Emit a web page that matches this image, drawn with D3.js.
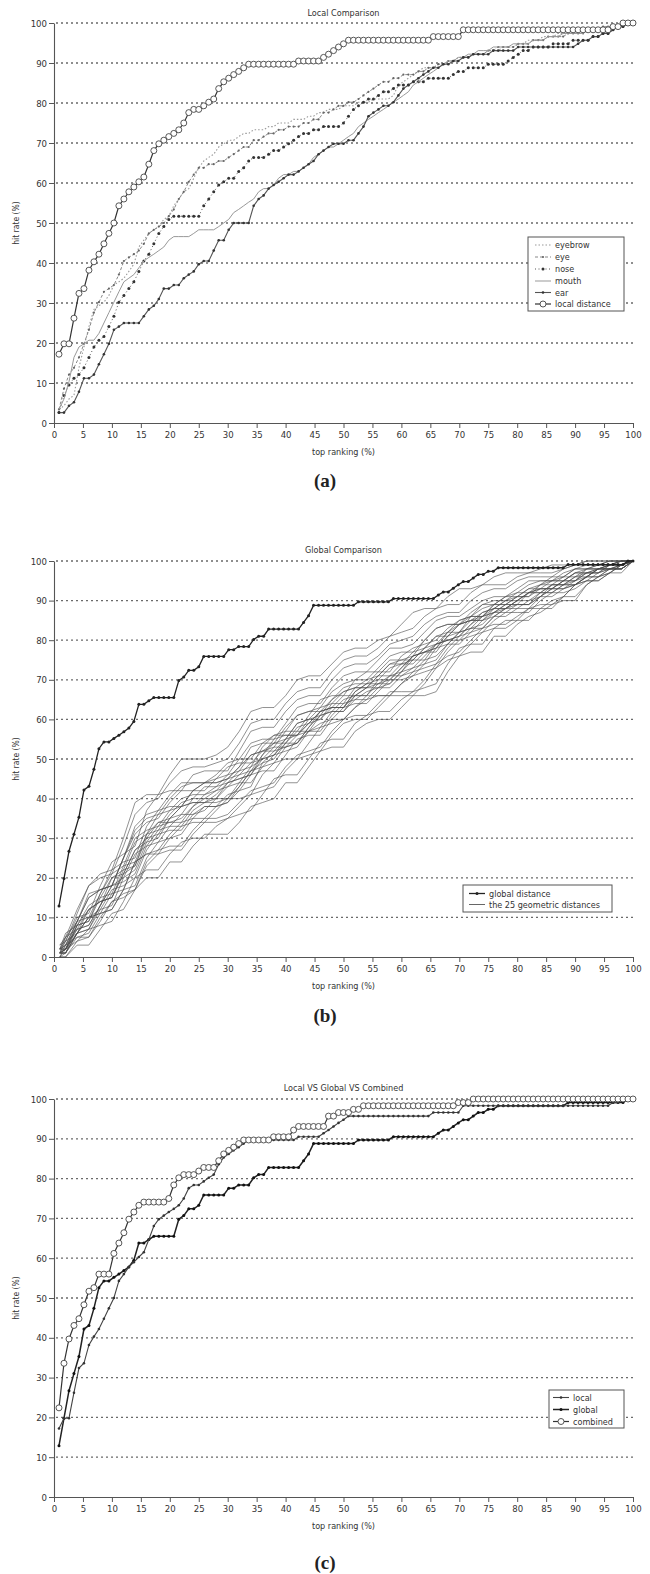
<!DOCTYPE html>
<html><head><meta charset="utf-8">
<script src="https://cdn.jsdelivr.net/npm/d3@7"></script>
<style>body{margin:0;background:#fff}</style>
</head><body>
<svg id="c" width="650" height="1574"></svg>
<script>
// ---------- data ----------
const nSubjects = 116; // ranks 1..116 -> top ranking (%)
const xTicks = [0,5,10,15,20,25,30,35,40,45,50,55,60,65,70,75,80,85,90,95,100];
const yTicks = [0,10,20,30,40,50,60,70,80,90,100];
const panelTitles = ["Local Comparison","Global Comparison","Local VS Global VS Combined"];
const panelLetters = ["(a)","(b)","(c)"];
const xLabel = "top ranking (%)";
const yLabel = "hit rate (%)";
const localNames = ["eyebrow","eye","nose","mouth","ear","local distance"];
const globalNames = ["global distance","the 25 geometric distances"];
const combNames = ["local","global","combined"];

const eyebrow = [3.4,4.3,6.0,6.9,13.8,19.0,24.1,28.4,29.3,30.2,
31.9,34.5,35.3,36.2,37.9,39.7,44.0,45.7,47.4,48.3,
49.1,50.9,51.7,54.3,56.0,57.8,58.6,61.2,63.8,65.5,
66.4,67.2,69.0,69.8,70.7,70.7,71.6,72.4,72.4,73.3,
73.3,73.3,74.1,74.1,75.0,75.0,75.0,75.9,75.9,75.9,
76.7,76.7,77.6,77.6,78.4,78.4,78.4,79.3,79.3,79.3,
80.2,80.2,80.2,81.0,81.0,81.0,81.0,81.9,84.5,85.3,
86.2,87.1,87.9,88.8,88.8,88.8,89.7,89.7,90.5,90.5,
91.4,91.4,91.4,92.2,92.2,92.2,93.1,93.1,93.1,94.0,
94.0,94.0,94.8,94.8,95.7,95.7,95.7,96.6,96.6,96.6,
97.4,97.4,97.4,97.4,98.3,98.3,98.3,98.3,98.3,99.1,
99.1,99.1,99.1,100,100,100];

const eye = [3.4,8.6,12.1,13.8,16.4,19.8,23.3,27.6,30.2,32.8,
33.6,34.5,37.1,40.5,41.4,42.2,43.1,44.8,47.4,48.3,
49.1,50.0,51.7,53.4,56.0,57.8,60.3,62.1,63.8,63.8,
64.7,64.7,65.5,65.5,66.4,67.2,68.1,69.0,69.0,70.7,
70.7,71.6,72.4,72.4,73.3,73.3,74.1,74.1,74.1,75.0,
75.0,75.9,75.9,77.6,77.6,78.4,79.3,79.3,80.2,80.2,
81.0,81.9,82.8,83.6,84.5,85.3,85.3,86.2,86.2,87.1,
87.1,87.1,87.9,87.9,88.8,88.8,89.7,89.7,90.5,90.5,
90.5,91.4,91.4,92.2,92.2,92.2,93.1,93.1,94.0,94.0,
94.0,94.0,94.8,94.8,94.8,95.7,95.7,95.7,96.6,96.6,
96.6,96.6,97.4,97.4,97.4,97.4,98.3,98.3,98.3,99.1,
99.1,99.1,99.1,100,100,100];

const nose = [2.6,6.9,9.5,11.2,12.1,13.8,16.4,19.0,20.7,21.6,
24.1,26.7,30.2,31.9,33.6,35.3,37.9,40.5,42.2,44.8,
47.4,49.1,50.9,51.7,51.7,51.7,51.7,51.7,51.7,54.3,
56.0,57.8,59.5,60.3,61.2,61.2,62.9,63.8,65.5,66.4,
66.4,66.4,67.2,68.1,68.1,69.0,69.8,70.7,71.6,72.4,
72.4,73.3,73.3,74.1,74.1,74.1,74.1,75.0,76.7,78.4,
79.3,80.2,81.0,81.0,81.9,82.8,82.8,83.6,84.5,84.5,
84.5,85.3,85.3,85.3,86.2,86.2,86.2,86.2,86.2,87.1,
87.9,87.9,88.8,88.8,88.8,88.8,89.7,89.7,89.7,89.7,
90.5,91.4,92.2,93.1,93.1,94.0,94.0,94.0,94.0,94.8,
94.8,94.8,94.8,95.7,95.7,95.7,95.7,96.6,96.6,97.4,
97.4,98.3,99.1,99.1,100,100];

const mouth = [3.4,6.0,10.3,16.4,19.0,19.8,20.7,20.7,22.4,25.0,
27.6,30.2,32.8,35.3,36.2,37.1,38.8,40.5,41.4,42.2,
43.1,44.0,45.7,46.6,46.6,46.6,46.6,47.4,48.3,48.3,
48.3,48.3,49.1,50.0,50.9,52.6,53.4,54.3,55.2,56.0,
57.8,58.6,58.6,59.5,61.2,62.1,62.1,62.9,62.9,63.8,
64.7,66.4,67.2,68.1,69.0,69.0,69.8,70.7,71.6,72.4,
74.1,75.0,75.9,76.7,77.6,78.4,79.3,80.2,81.0,81.9,
82.8,84.5,85.3,86.2,87.1,87.9,88.8,89.7,90.5,90.5,
91.4,91.4,92.2,92.2,93.1,93.1,93.1,94.0,94.0,94.0,
94.0,94.8,94.8,94.8,94.8,95.7,95.7,95.7,96.6,96.6,
96.6,97.4,97.4,97.4,97.4,97.4,98.3,98.3,98.3,98.3,
99.1,99.1,99.1,99.1,100,100];

const ear = [2.6,2.6,4.3,5.2,7.8,11.2,11.2,12.1,14.7,17.2,
19.8,23.3,24.1,25.0,25.0,25.0,25.0,26.7,28.4,29.3,
31.0,33.6,33.6,34.5,34.5,36.2,37.1,37.9,39.7,40.5,
40.5,43.1,45.7,45.7,48.3,50.0,50.0,50.0,50.0,54.3,
56.0,56.9,58.6,59.5,60.3,61.2,62.1,62.1,62.9,63.8,
64.7,65.5,67.2,68.1,69.0,69.8,69.8,69.8,70.7,70.7,
72.4,74.1,76.7,77.6,78.4,79.3,79.3,80.2,81.9,83.6,
84.5,85.3,86.2,87.1,87.9,88.8,88.8,89.7,89.7,90.5,
90.5,91.4,91.4,92.2,92.2,92.2,92.2,93.1,93.1,93.1,
93.1,93.1,94.0,94.0,94.0,94.0,94.0,94.0,94.0,94.0,
94.0,94.0,94.0,94.0,94.8,95.7,95.7,96.6,96.6,97.4,
97.4,98.3,99.1,99.1,100,100];

const localDist = [17.2,19.8,19.8,26.2,32.4,33.6,38.2,40.3,42.2,44.8,
47.4,50.0,54.3,56.0,57.8,59.0,60.3,61.5,64.7,68.1,
69.8,70.7,71.6,72.4,73.3,75.0,77.6,78.4,78.4,79.3,
80.2,81.0,83.6,85.3,86.2,87.1,87.9,88.8,89.7,89.7,
89.7,89.7,89.7,89.7,89.7,89.7,89.7,89.7,90.5,90.5,
90.5,90.5,90.5,91.4,92.2,93.1,94.0,94.8,95.7,95.7,
95.7,95.7,95.7,95.7,95.7,95.7,95.7,95.7,95.7,95.7,
95.7,95.7,95.7,95.7,95.7,96.6,96.6,96.6,96.6,96.6,
96.6,98.3,98.3,98.3,98.3,98.3,98.3,98.3,98.3,98.3,
98.3,98.3,98.3,98.3,98.3,98.3,98.3,98.3,98.3,98.3,
98.3,98.3,98.3,98.3,98.3,98.3,98.3,98.3,98.3,98.3,
98.3,99.1,99.1,100,100,100];

const globalDist = [12.9,19.8,26.7,31.0,35.3,42.2,43.1,47.4,52.6,54.3,
54.3,55.2,56.0,56.9,57.8,59.5,63.8,63.8,64.7,65.5,
65.5,65.5,65.5,65.5,69.8,70.7,72.4,72.4,73.3,75.9,
75.9,75.9,75.9,75.9,77.6,77.6,78.4,78.4,78.4,80.2,
81.0,81.0,82.8,82.8,82.8,82.8,82.8,82.8,82.8,84.5,
86.2,88.8,88.8,88.8,88.8,88.8,88.8,88.8,88.8,88.8,
89.7,89.7,89.7,89.7,89.7,89.7,89.7,90.5,90.5,90.5,
90.5,90.5,90.5,90.5,90.5,90.5,91.4,92.2,92.2,93.1,
94.0,94.8,94.8,95.7,96.6,96.6,97.4,97.4,98.3,98.3,
98.3,98.3,98.3,98.3,98.3,98.3,98.3,98.3,98.3,98.3,
98.3,98.3,99.1,99.1,99.1,99.1,99.1,99.1,99.1,99.1,
99.1,99.1,99.1,99.1,100,100];

const combined = [22.4,33.6,39.7,43.1,44.8,48.3,51.7,52.6,56.0,56.0,
56.0,61.2,63.8,66.4,69.8,71.6,73.3,74.1,74.1,74.1,
74.1,74.1,75.0,78.4,80.2,81.0,81.0,81.0,81.9,82.8,
82.8,82.8,84.5,86.2,87.1,87.9,88.8,89.7,89.7,89.7,
89.7,89.7,89.7,90.5,90.5,90.5,90.5,92.2,93.1,93.1,
93.1,93.1,93.1,93.1,95.7,95.7,96.6,96.6,96.6,97.4,
97.4,98.3,98.3,98.3,98.3,98.3,98.3,98.3,98.3,98.3,
98.3,98.3,98.3,98.3,98.3,98.3,98.3,98.3,98.3,98.3,
99.1,99.1,99.1,100,100,100,100,100,100,100,
100,100,100,100,100,100,100,100,100,100,
100,100,100,100,100,100,100,100,100,100,
100,100,100,100,100,100];

// 25 geometric distances, sampled at these top-ranking (%) values
const geoX = [1,2,4,6,8,10,12,14,16,18,20,22,24,26,28,30,32,34,36,38,40,42,44,46,48,50,
52,54,56,58,60,62,64,66,68,70,72,74,76,78,80,82,84,86,88,90,92,94,96,98,100];
const geometric = [
[0,0,3,3,7,11,12,17,20,20,24,24,28,31,31,31,34,38,39,40,44,44,48,52,53,53,57,59,60,60,63,66,66,67,72,76,77,77,81,81,84,86,87,89,90,90,94,96,97,99,100],
[3,5,12,18,21,22,30,39,41,41,46,50,50,50,51,53,57,62,63,63,66,70,71,71,74,77,78,78,80,81,84,87,88,88,91,93,93,94,96,97,97,97,98,99,99,99,100,100,100,100,100],
[1,2,7,12,14,15,21,27,30,31,35,38,39,39,41,44,45,46,51,54,55,56,59,62,63,63,67,69,70,70,73,76,77,77,81,84,85,86,88,90,90,90,92,94,94,95,97,98,98,98,100],
[1,1,6,10,11,12,17,24,26,27,31,34,35,35,38,41,42,43,49,52,53,54,58,61,62,62,66,68,69,70,73,76,77,78,82,85,86,86,89,91,91,91,94,96,96,96,98,99,99,99,100],
[2,3,9,15,17,18,25,31,34,35,39,42,42,42,45,48,49,49,52,54,54,54,57,59,60,60,63,65,66,66,69,72,73,74,78,81,82,83,86,88,88,88,91,93,93,94,96,98,98,98,100],
[1,4,6,7,13,18,19,21,28,32,33,33,37,39,39,40,43,47,48,49,53,56,57,57,61,64,65,65,68,71,71,72,75,79,80,80,83,86,87,87,89,92,92,92,94,96,96,96,98,99,100],
[2,2,8,13,15,16,23,30,32,33,37,40,41,41,43,46,47,48,53,56,57,57,61,65,66,66,70,72,72,72,76,78,79,80,83,85,86,86,89,91,92,92,94,95,95,95,98,99,99,99,100],
[0,1,5,5,10,14,16,17,24,27,28,28,32,35,35,36,39,42,43,44,48,51,52,53,57,60,61,61,64,67,67,67,70,74,76,77,80,83,84,84,86,88,89,89,91,94,95,95,97,99,100],
[2,4,10,11,18,24,26,28,37,41,42,42,46,47,47,47,52,57,58,58,62,65,66,66,70,73,74,74,76,79,80,81,84,86,87,87,90,92,93,93,95,96,96,96,98,99,99,99,100,100,100],
[1,3,7,8,13,18,20,22,29,33,34,35,38,40,40,40,44,48,50,51,54,57,57,58,62,65,66,66,69,71,72,73,76,79,80,81,84,86,87,88,90,92,92,92,94,96,97,97,98,99,100],
[1,2,8,12,14,15,22,29,31,32,36,39,40,40,42,45,46,47,51,55,56,56,60,63,64,64,68,70,71,71,74,77,78,79,82,84,85,85,88,90,91,91,93,95,95,95,97,98,99,99,100],
[1,1,6,7,12,17,18,20,27,31,32,32,36,38,38,39,42,46,47,47,51,55,56,56,60,63,64,64,67,70,70,71,74,78,79,79,82,85,86,86,88,90,91,91,93,95,96,96,98,99,100],
[2,5,9,10,16,22,24,25,33,37,38,38,42,44,44,45,48,53,54,54,58,61,62,63,67,69,70,70,73,76,77,77,80,83,84,84,87,89,90,90,92,94,95,95,96,98,98,98,99,100,100],
[0,0,4,7,8,9,14,20,22,22,26,29,30,30,33,35,36,37,41,45,46,46,50,54,55,55,59,61,62,62,65,67,68,69,74,78,79,79,83,85,85,85,88,90,91,91,94,96,97,97,100],
[3,4,11,18,20,21,28,36,39,40,44,47,48,48,49,50,54,59,60,60,64,67,68,68,72,75,76,76,78,81,82,83,86,88,89,89,92,94,94,94,96,97,97,97,98,99,100,100,100,100,100],
[1,5,7,8,13,20,22,23,31,34,34,34,38,41,42,43,46,49,50,51,55,59,60,60,63,66,66,66,70,73,74,74,77,79,80,81,84,87,88,88,90,92,93,93,95,97,97,97,99,100,100],
[1,2,6,12,14,15,21,27,29,30,35,38,39,39,40,44,45,46,50,53,53,54,58,62,63,63,67,69,69,69,72,76,77,78,81,84,85,85,87,89,89,89,92,94,94,94,96,98,98,98,100],
[1,1,8,9,15,20,21,23,30,34,35,36,40,43,43,44,47,51,52,52,55,59,60,61,65,67,68,68,71,74,75,75,78,81,81,82,86,88,89,89,91,93,93,93,95,97,98,98,99,100,100],
[0,3,5,6,11,16,17,18,25,29,30,31,35,38,38,39,43,47,49,50,54,58,59,60,64,67,68,68,71,74,74,75,78,81,82,82,85,87,88,88,90,92,93,93,95,97,97,97,99,99,100],
[2,2,9,15,17,18,25,33,36,37,41,44,44,44,46,49,50,50,54,56,56,56,59,62,63,63,66,68,68,68,71,73,74,75,79,82,83,84,87,89,89,89,91,93,93,94,96,98,98,98,100],
[1,2,6,10,12,13,20,26,28,29,33,36,36,37,40,43,44,44,48,51,52,53,57,61,62,62,65,67,68,69,72,75,75,76,79,82,83,83,86,88,89,89,91,94,94,94,96,98,98,98,100],
[2,6,8,9,16,21,23,24,31,36,37,38,42,44,44,45,48,51,52,53,57,61,62,62,65,68,69,69,72,75,75,76,80,83,84,84,86,89,89,89,91,93,94,94,96,98,98,98,99,100,100],
[1,1,6,10,11,12,17,24,26,26,30,33,34,34,37,40,40,41,46,49,50,50,54,58,59,60,63,66,66,66,69,71,72,73,77,80,81,82,85,87,87,87,90,92,92,93,95,97,98,98,100],
[2,3,9,16,17,18,25,32,35,36,40,43,44,44,45,46,50,54,55,55,59,63,64,64,68,71,72,72,75,78,78,79,82,85,86,86,88,90,91,91,93,95,95,95,97,98,99,99,100,100,100],
[0,2,4,5,9,14,15,17,23,26,27,27,31,34,34,35,38,41,42,43,47,50,51,52,56,59,60,60,63,66,66,66,69,73,75,76,79,82,83,83,85,88,88,88,91,94,95,95,97,99,100]
];

// ---------- drawing ----------
const svg = d3.select("#c");
svg.append("rect").attr("width",650).attr("height",1574).attr("fill","#fff");
const FONT = "'Liberation Sans Narrow','Arial Narrow','DejaVu Sans Condensed','Liberation Sans',sans-serif";
const x = d3.scaleLinear().domain([0,100]).range([54,633]);
const ranks = d3.range(1, nSubjects + 1).map(k => k * 100 / nSubjects);

const panels = [
  {top:23,  bottom:423,  titleY:16,   letterY:487},
  {top:561, bottom:957,  titleY:553,  letterY:1022},
  {top:1099,bottom:1497, titleY:1091, letterY:1569}
];

function makePanel(i){
  const p = panels[i];
  const y = d3.scaleLinear().domain([0,100]).range([p.bottom,p.top]);
  const g = svg.append("g");
  g.append("g").selectAll("line").data(yTicks.filter(v=>v>0)).join("line")
    .attr("x1",x(0)+2).attr("x2",636).attr("y1",d=>y(d)).attr("y2",d=>y(d))
    .attr("stroke","#6a6a6a").attr("stroke-width",1.3).attr("stroke-dasharray","2,3");
  const ya = g.append("g").attr("transform",`translate(${x(0)},0)`)
    .call(d3.axisLeft(y).tickValues(yTicks).tickSize(5).tickSizeOuter(0).tickPadding(2));
  const xa = g.append("g").attr("transform",`translate(0,${p.bottom})`)
    .call(d3.axisBottom(x).tickValues(xTicks).tickSize(5).tickSizeOuter(0).tickPadding(3));
  [ya,xa].forEach(a=>{
    a.select(".domain").attr("stroke","#555").attr("stroke-width",1.1);
    a.selectAll(".tick line").attr("stroke","#555");
    a.selectAll(".tick text").attr("font-family",FONT).attr("font-size",9.5).attr("fill","#333");
  });
  g.append("text").attr("x",(x(0)+x(100))/2).attr("y",p.titleY).attr("text-anchor","middle")
    .attr("font-family",FONT).attr("font-size",9).attr("fill","#333").text(panelTitles[i]);
  g.append("text").attr("x",(x(0)+x(100))/2).attr("y",p.bottom+32).attr("text-anchor","middle")
    .attr("font-family",FONT).attr("font-size",9).attr("fill","#333").text(xLabel);
  g.append("text").attr("transform",`translate(19,${(p.top+p.bottom)/2}) rotate(-90)`)
    .attr("text-anchor","middle").attr("font-family",FONT).attr("font-size",8.5).attr("fill","#333").text(yLabel);
  g.append("text").attr("x",325).attr("y",p.letterY).attr("text-anchor","middle")
    .attr("font-family","'Liberation Serif','DejaVu Serif',serif").attr("font-weight","bold")
    .attr("font-size",19).attr("fill","#222").text(panelLetters[i]);
  return y;
}

function drawSeries(y, xs, ys, st){
  const data = xs.map((v,i)=>[v, ys[i]]);
  svg.append("path").datum(data).attr("fill","none")
    .attr("stroke",st.color).attr("stroke-width",st.width)
    .attr("stroke-dasharray",st.dash||null).attr("opacity",st.opacity||1)
    .attr("d", d3.line().x(d=>x(d[0])).y(d=>y(d[1])));
  if (st.r) {
    svg.append("g").selectAll("circle").data(data).join("circle")
      .attr("cx",d=>x(d[0])).attr("cy",d=>y(d[1])).attr("r",st.r)
      .attr("fill",st.mfill).attr("stroke",st.mstroke||"none").attr("stroke-width",st.msw||0);
  }
}

function legendSample(gx, gy, st){
  const g = svg.append("g");
  g.append("line").attr("x1",gx).attr("x2",gx+16).attr("y1",gy).attr("y2",gy)
    .attr("stroke",st.color).attr("stroke-width",st.width).attr("stroke-dasharray",st.dash||null);
  if (st.r) g.append("circle").attr("cx",gx+8).attr("cy",gy).attr("r",st.r)
    .attr("fill",st.mfill).attr("stroke",st.mstroke||"none").attr("stroke-width",st.msw||0);
}
function legend(bx, by, bw, bh, names, styles, rowY, sx){
  svg.append("rect").attr("x",bx).attr("y",by).attr("width",bw).attr("height",bh)
    .attr("fill","#fff").attr("stroke","#555").attr("stroke-width",1);
  names.forEach((n,i)=>{
    legendSample(sx, rowY[i], styles[i]);
    svg.append("text").attr("x",sx+20).attr("y",rowY[i]).attr("dy","0.35em")
      .attr("font-family",FONT).attr("font-size",9).attr("fill","#333").text(n);
  });
}

// styles
const sEyebrow = {color:"#999",width:1.1,dash:"1.5,2"};
const sEye = {color:"#888",width:1,dash:"3,2",r:1.1,mfill:"#666"};
const sNose = {color:"#555",width:1,dash:"1,2.5",r:1.5,mfill:"#333"};
const sMouth = {color:"#999",width:1};
const sEar = {color:"#555",width:1.1,r:1.3,mfill:"#333"};
const sLocalDist = {color:"#333",width:1.2,r:3,mfill:"#fff",mstroke:"#444",msw:0.9};
const sGlobal = {color:"#222",width:1.3,r:1.5,mfill:"#222"};
const sGeo = {color:"#4a4a4a",width:0.75,opacity:0.8};
const sLocalC = {color:"#444",width:1.1,r:1.3,mfill:"#333"};
const sGlobalC = {color:"#222",width:1.5,r:1.5,mfill:"#111"};
const sComb = {color:"#333",width:1.2,r:3,mfill:"#fff",mstroke:"#444",msw:0.9};

// panel (a)
const ya = makePanel(0);
drawSeries(ya, ranks, eyebrow, sEyebrow);
drawSeries(ya, ranks, eye, sEye);
drawSeries(ya, ranks, nose, sNose);
drawSeries(ya, ranks, mouth, sMouth);
drawSeries(ya, ranks, ear, sEar);
drawSeries(ya, ranks, localDist, sLocalDist);
legend(528,237,96,74,localNames,[sEyebrow,sEye,sNose,sMouth,sEar,sLocalDist],[245,257,269,281,292.5,304],535);

// panel (b)
const yb = makePanel(1);
geometric.forEach(s => drawSeries(yb, geoX, s, sGeo));
drawSeries(yb, ranks, globalDist, sGlobal);
legend(463,885,149,27,globalNames,[sGlobal,{color:"#666",width:1}],[893.5,904.5],469);

// panel (c)
const yc = makePanel(2);
drawSeries(yc, ranks, globalDist, sGlobalC);
drawSeries(yc, ranks, localDist, sLocalC);
drawSeries(yc, ranks, combined, sComb);
legend(549,1390,75,38,combNames,[sLocalC,sGlobalC,sComb],[1397.5,1409.5,1421.5],553);
</script>
</body></html>
